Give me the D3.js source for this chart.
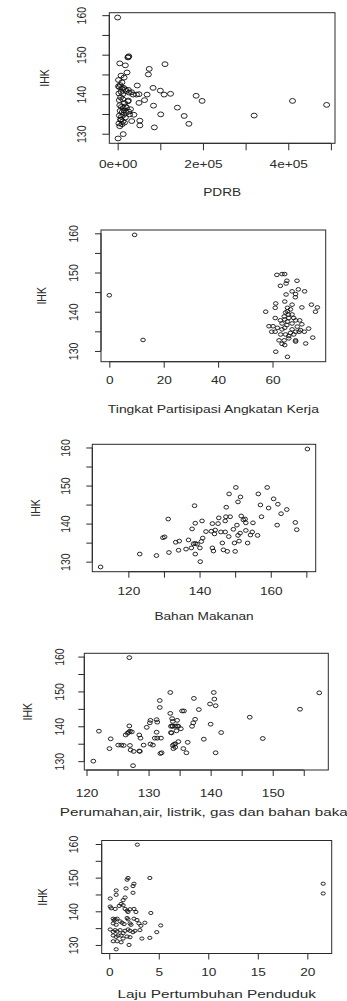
<!DOCTYPE html>
<html><head><meta charset="utf-8">
<script src="https://cdn.jsdelivr.net/npm/d3@7"></script>
<style>html,body{margin:0;padding:0;background:#fff;overflow:hidden}</style>
</head><body><svg id="c" width="347" height="1001"></svg>
<script>
// ---- DATA ----
const yTicks = [130,135,140,145,150,155,160];
const yTickLabels = ["130","","140","","150","","160"];
const yTitle = "IHK";

const pdrbTicks = [0,100000,200000,300000,400000,500000];
const pdrbTickLabels = ["0e+00","","2e+05","","4e+05",""];
const pdrbData = [
[0,159.4],[24000,149.3],[26000,149.6],[25000,149.4],[5000,147.8],[18000,147.3],[22000,145.5],[8000,144.7],[15000,144.2],[2000,143.6],[10000,143],[74000,146.4],[72000,145],[111000,147.6],[46000,142.2],[83000,141.6],[100000,140.9],[109000,139.9],[124000,140.1],[184000,139.6],[198000,138.3],[410000,138.3],[490000,137.3],[140000,136.6],[63000,138.5],[50000,137.8],[84000,137.1],[101000,134.9],[156000,134.5],[320000,134.6],[167000,132.5],[86000,131.6],[52000,133.3],[52000,132.1],[38000,134.8],[33000,133.2],[8000,133.5],[3000,132.6],[5000,131.9],[1000,128.8],[13000,129.9],[25000,141.1],[32500,140.5],[36000,139.9],[44000,139.9],[50000,140],[69000,139.9],
[2000,142],[4000,141.8],[6000,142.3],[10000,141.5],[14000,141.6],[18000,141.2],[3000,140.2],[8000,140.6],[12000,140],[20000,140.8],[27000,140.4],[4000,138.5],[7000,139.2],[12000,138.7],[16000,137.8],[24000,138.2],[25000,138.4],[5000,137.2],[9000,136.8],[13000,136.5],[18000,136.9],[21000,136.6],[6000,135.8],[11000,135.5],[15000,135.9],[20000,135.3],[26000,135.6],[4000,134.6],[9000,134.3],[14000,134.8],[18000,134.1],[7000,133.6],[12000,133.1],[10000,132.4],[16000,132.8],[30000,136.2],[28000,134.9]
];

const tpakTicks = [0,20,40,60];
const tpakTickLabels = ["0","20","40","60"];
const tpakData = [
[0,144.2],[9.3,159.6],[12.4,132.8],
[61.6,149.4],[63.5,149.6],[64.5,149.6],[65.3,147.9],[69,147.9],[62.9,146.6],[65,147.2],[69.5,145.7],[71.8,145.2],[67.2,145.2],[68.5,144.5],[65,144.4],[68.4,143.7],[57.5,140],[61.2,142.1],[61,141],[64.5,142.6],[67.2,141.8],[70.8,141.1],[74.3,141.8],[76.5,141.1],[75.8,140],[65.5,141],[65.5,140.1],[65.8,139.3],[66,138.4],[65.5,137.5],[61,138.4],[62.9,137.8],[64.5,138],[68.5,137.8],[70,137.8],[70.8,136.8],[58.7,136.3],[60.2,136.3],[61.8,135.9],[63.5,135.5],[59.7,134.9],[61,134.9],[64.5,135.9],[67.2,135.5],[68.5,134.9],[69.8,134.9],[71.7,134.9],[73.3,135.7],[66.6,134.6],[67.8,134.2],[62.4,132.7],[64.3,132.7],[66,133.2],[68.5,132.7],[74.8,133.4],[72.2,131.9],[63.5,131.8],[64.5,131.5],[68.5,132.4],[61.2,129.8],[65.5,128.5],[64.8,139.8],[66.6,140.6],[67.2,139.3],[64.3,138.8],[67.8,138.4],[63.5,137],[65.3,136.6],[67.2,137],[69.1,136.2],[70.3,135.3],[63,134.2],[64.8,134.2],[66,133.8]
];

const makananTicks = [120,130,140,150,160,170];
const makananTickLabels = ["120","","140","","160",""];
const makananData = [
[112.2,128.6],[170.3,159.6],[123.2,132],[127.9,131.6],[131.4,132.4],[131.2,141.2],[129.7,136.3],[130.2,136.5],[133.3,135.1],[134.3,135.4],[134.1,133],[136.2,133.3],[136.9,135.7],[137.7,133.6],[138.3,134.7],[138.8,134.8],[139.3,134.6],[138.8,132],[137.9,138.6],[138.8,140.1],[140.7,140.7],[138.6,144.7],[140.1,133.6],[140.9,136.2],[140.5,135.3],[140.2,130],[141.8,137.9],[143.3,138],[143.6,140],[144.2,137.3],[145.2,140],[145.4,141.5],[143.6,133.6],[143.9,132.8],[144.4,138.3],[146,137.8],[146.4,134.9],[146.7,133.1],[147.2,137.8],[147.2,140.7],[147.4,141.8],[147.5,144.3],[147.8,132.7],[148.2,136.6],[148.6,141.8],[148.3,147.8],[149.5,138.5],[149.8,134.9],[150,132.7],[150.2,149.5],[150.5,139.6],[150.8,145.7],[150.8,136.9],[151.1,135.4],[151.4,137.5],[151.5,147],[151.7,142],[152.3,141],[152.8,141.2],[153,140.2],[153,138.2],[153.5,134.9],[154.3,137],[155,140.2],[154.8,137.8],[156.3,136.9],[156.5,147.8],[157.1,144.9],[157.4,141.8],[159,149.5],[159.4,144.1],[160.8,146.5],[162,145.1],[161.8,139.6],[162.9,142.6],[164.5,143.7],[166.9,140.3],[167.3,138.4]
];

const rumahTicks = [120,125,130,135,140,145,150,155];
const rumahTickLabels = ["120","","130","","140","","150",""];
const rumahData = [
[121.1,130],[122,138.6],[123.7,133.6],[123.9,136.4],[125.1,134.6],[125.6,134.6],[126,134.5],[126.9,159.7],[126.9,140.1],[126.3,137.5],[126.6,138],[126.8,138.3],[127,138.6],[127.3,138.4],[127,134.5],[127.1,133.2],[127.6,132.8],[127.5,128.7],[128.5,132.9],[128.6,132.8],[128.5,137.5],[128.7,136.6],[129.2,134.6],[129.7,139.7],[130.3,141.7],[130.2,141],[130.3,134.9],[130.7,134.6],[131,136.6],[131.4,136.6],[132,136.6],[131.3,141.9],[131.4,141.2],[131.3,138.3],[131.8,147.4],[131.8,145.4],[131.9,132.2],[132.1,132.4],[133.5,149.7],[133.5,143.7],[133.6,138.2],[133.7,138.1],[133.6,140],[133.8,140.1],[133.9,140],[133.8,142.2],[133.9,141.4],[133.9,134.5],[134.1,134.8],[134.3,135],[134,133.6],[134.3,134],[134.3,140],[134.6,140.1],[134.8,140],[134.6,141.7],[134.5,138.7],[135.2,139.3],[134.8,135.6],[135.4,144.4],[135.7,144.4],[135.6,133.6],[136.1,132.4],[136.3,135.4],[137,140],[137.2,141],[137.3,148],[137.5,142],[138.1,144.8],[138.9,136.3],[140,140.6],[139.9,146.4],[140.5,149.7],[140.6,147.8],[140.8,145.9],[140.8,132.4],[141.7,138.2],[146.3,142.6],[148.4,136.5],[154.4,144.9],[157.5,149.6]
];

const lajuTicks = [0,5,10,15,20];
const lajuTickLabels = ["0","5","10","15","20"];
const lajuData = [
[2.84,159.8],[4.1,149.9],[1.9,149.9],[1.8,149.4],[2.5,148.2],[2.4,147.5],[1.7,146.8],[2.4,145.5],[0.7,146.2],[0.7,144.9],[0.1,143.8],[1.6,144.1],[1.4,143.3],[0.1,141.4],[0.2,140.9],[0.6,140.7],[1.0,141.6],[1.2,142.2],[1.4,141.8],[1.6,140.7],[1.8,140.2],[1.9,139.8],[2.1,140.6],[2.5,140.7],[2.7,139.8],[4.2,139.5],[0.4,137.8],[0.5,137.3],[0.6,137.6],[0.8,137.8],[0.4,136.4],[0.7,136],[1.1,137],[1.3,136.6],[1.5,136.2],[1.8,138],[1.9,137.6],[2.1,136.4],[2.2,136],[2.5,137.8],[2.8,137.4],[3.0,136.4],[3.2,135.7],[3.6,136.6],[5.2,135.8],[0.1,134.6],[0.4,133.9],[0.6,134.4],[0.8,134],[1.1,134.4],[1.4,133.5],[1.6,134.2],[1.9,134.6],[2.1,134.2],[2.4,133.8],[2.6,134.2],[3.1,134.4],[4.8,133.8],[0.4,132.8],[0.7,132.4],[0.9,132.8],[1.2,132.8],[1.4,131.9],[1.8,132.5],[2.1,132.3],[3.3,131.9],[4.1,132.1],[0.4,131.1],[0.8,131.1],[1.2,130.8],[2.0,130],[0.7,128.7],[21.6,148.2],[21.6,145.3]
];

// ---- LAYOUT ----
const panels = [
 {data:pdrbData, title:"PDRB", ticks:pdrbTicks, labels:pdrbTickLabels, L:109.3,R:335,T:12.7,B:143.3, tickY:165, titleY:193, yLabX:82, ihkX:45, rx:3,ry:2.4, fs:10.5, tfs:10.5, tk:7},
 {data:tpakData, title:"Tingkat Partisipasi Angkatan Kerja", ticks:tpakTicks, labels:tpakTickLabels, L:101,R:325.7,T:230,B:361.7, tickY:380.7, titleY:410, yLabX:74, ihkX:42, rx:2.3,ry:1.8, fs:10.5, tfs:10.7, tk:6},
 {data:makananData, title:"Bahan Makanan", ticks:makananTicks, labels:makananTickLabels, L:92.3,R:315.7,T:444.3,B:571.7, tickY:591.7, titleY:617, yLabX:66, ihkX:36, rx:2.3,ry:1.9, fs:10.5, tfs:10.5, tk:6},
 {data:rumahData, title:"Perumahan,air, listrik, gas dan bahan bakar", ticks:rumahTicks, labels:rumahTickLabels, L:84.3,R:328.3,T:653.3,B:770, tickY:794, titleY:812, yLabX:60, ihkX:28, rx:2.4,ry:1.9, fs:10.5, tfs:11.7, tk:6},
 {data:lajuData, title:"Laju Pertumbuhan Penduduk", ticks:lajuTicks, labels:lajuTickLabels, L:101.7,R:331.7,T:840.5,B:953.5, tickY:973, titleY:994, yLabX:74, ihkX:43, rx:2.1,ry:1.6, fs:10.5, tfs:11.8, tk:6}
];
const SX = 1.3;
const FONT = "'Liberation Sans', Arial, sans-serif";
const INK = "#2a2a2a";

function pad(ext){const w=ext[1]-ext[0];return [ext[0]-0.04*w, ext[1]+0.04*w];}
const svg = d3.select("#c");

panels.forEach(p=>{
  const x = d3.scaleLinear().domain(pad(d3.extent(p.data,d=>d[0]))).range([p.L,p.R]);
  const y = d3.scaleLinear().domain(pad(d3.extent(p.data,d=>d[1]))).range([p.B,p.T]);
  const g = svg.append("g");

  // x axis
  const xa = g.append("g").attr("transform",`translate(0,${p.B})`)
    .call(d3.axisBottom(x).tickValues(p.ticks).tickSize(p.tk).tickFormat((d,i)=>p.labels[i]));
  xa.select(".domain").remove();
  xa.append("line").attr("x1",x(p.ticks[0])).attr("x2",x(p.ticks[p.ticks.length-1])).attr("stroke",INK);
  xa.selectAll(".tick line").attr("stroke",INK);
  xa.selectAll(".tick text").attr("y",null).attr("dy",null)
    .attr("transform",`translate(0,${p.tickY-p.B}) scale(${SX},1)`)
    .attr("dominant-baseline","central").attr("text-anchor","middle")
    .attr("fill",INK).style("font-family",FONT).style("font-size",p.fs+"px");

  // y axis
  const ya = g.append("g").attr("transform",`translate(${p.L},0)`)
    .call(d3.axisLeft(y).tickValues(yTicks).tickSize(p.tk).tickFormat((d,i)=>yTickLabels[i]));
  ya.select(".domain").remove();
  ya.append("line").attr("y1",y(yTicks[0])).attr("y2",y(yTicks[yTicks.length-1])).attr("stroke",INK);
  ya.selectAll(".tick line").attr("stroke",INK);
  ya.selectAll(".tick text").attr("x",null).attr("dy",null)
    .attr("transform",`translate(${p.yLabX-p.L},0) scale(${SX},1) rotate(-90)`)
    .attr("dominant-baseline","central").attr("text-anchor","middle")
    .attr("fill",INK).style("font-family",FONT).style("font-size",p.fs+"px");

  // box
  g.append("rect").attr("x",p.L).attr("y",p.T).attr("width",p.R-p.L).attr("height",p.B-p.T)
    .attr("fill","none").attr("stroke",INK).attr("stroke-width",1);

  // points
  g.append("g").selectAll("ellipse").data(p.data).join("ellipse")
    .attr("cx",d=>x(d[0])).attr("cy",d=>y(d[1])).attr("rx",p.rx).attr("ry",p.ry)
    .attr("fill","none").attr("stroke","#111").attr("stroke-width",0.9);

  // titles
  const cx = (p.L+p.R)/2, cy=(p.T+p.B)/2;
  g.append("text").attr("transform",`translate(${cx},${p.titleY}) scale(${SX},1)`)
    .attr("text-anchor","middle").attr("dominant-baseline","central")
    .attr("fill",INK).style("font-family",FONT).style("font-size",p.tfs+"px").text(p.title);
  g.append("text").attr("transform",`translate(${p.ihkX},${cy}) scale(${SX},1) rotate(-90)`)
    .attr("text-anchor","middle").attr("dominant-baseline","central")
    .attr("fill",INK).style("font-family",FONT).style("font-size",p.fs+"px").text(yTitle);
});
</script></body></html>
